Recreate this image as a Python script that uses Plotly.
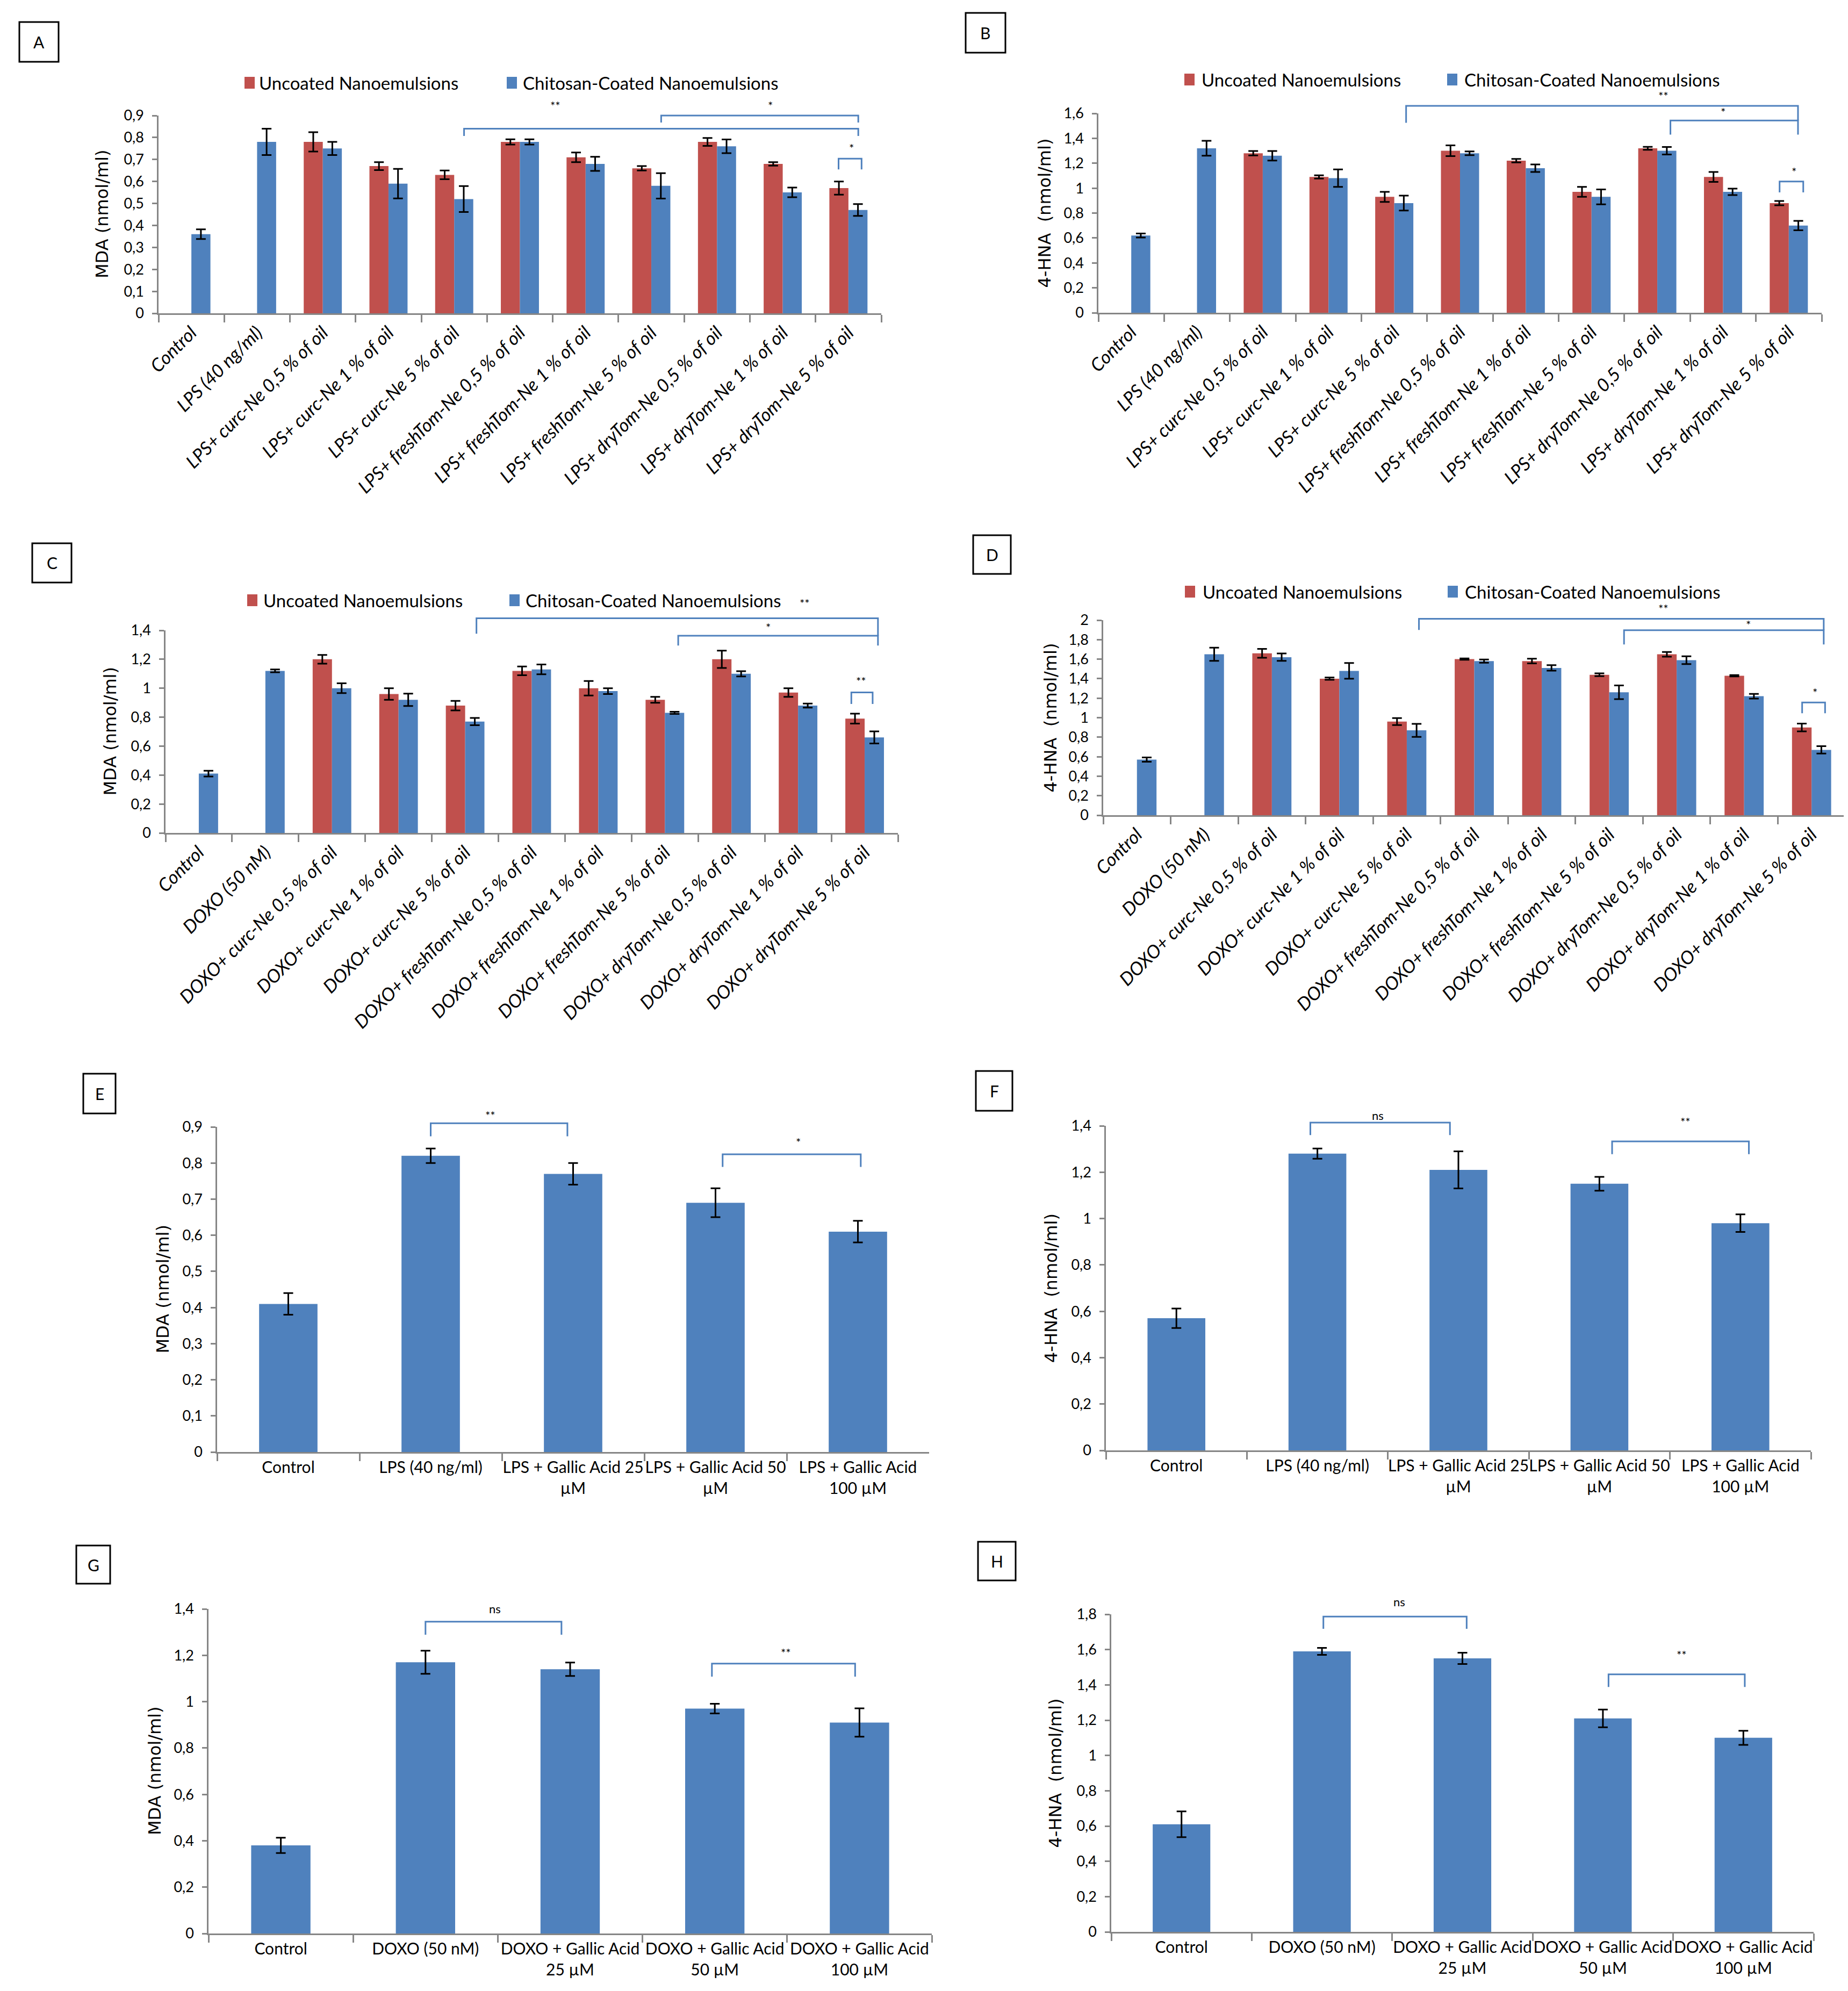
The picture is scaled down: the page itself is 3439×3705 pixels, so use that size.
import plotly.graph_objects as go

W, H = 3439, 3705
RED = '#C0504D'
BLUE = '#4F81BD'
GREY = '#868686'
SANS = 'Lato, Carlito, Calibri, Liberation Sans, sans-serif'
VERDANA = 'DejaVu Sans, Verdana, sans-serif'

# ---- categories ----
lps_groups = ['Control', 'LPS (40 ng/ml)',
              'LPS+ curc-Ne 0,5 % of oil', 'LPS+ curc-Ne 1 % of oil', 'LPS+ curc-Ne 5 % of oil',
              'LPS+ freshTom-Ne 0,5 % of oil', 'LPS+ freshTom-Ne 1 % of oil', 'LPS+ freshTom-Ne 5 % of oil',
              'LPS+ dryTom-Ne 0,5 % of oil', 'LPS+ dryTom-Ne 1 % of oil', 'LPS+ dryTom-Ne 5 % of oil']
doxo_groups = ['Control', 'DOXO (50 nM)',
               'DOXO+ curc-Ne 0,5 % of oil', 'DOXO+ curc-Ne 1 % of oil', 'DOXO+ curc-Ne 5 % of oil',
               'DOXO+ freshTom-Ne 0,5 % of oil', 'DOXO+ freshTom-Ne 1 % of oil', 'DOXO+ freshTom-Ne 5 % of oil',
               'DOXO+ dryTom-Ne 0,5 % of oil', 'DOXO+ dryTom-Ne 1 % of oil', 'DOXO+ dryTom-Ne 5 % of oil']
lps_gallic = ['Control', 'LPS (40 ng/ml)', 'LPS + Gallic Acid 25<br>µM',
              'LPS + Gallic Acid 50<br>µM', 'LPS + Gallic Acid<br>100 µM']
doxo_gallic = ['Control', 'DOXO (50 nM)', 'DOXO + Gallic Acid<br>25 µM',
               'DOXO + Gallic Acid<br>50 µM', 'DOXO + Gallic Acid<br>100 µM']

# ---- panel A: MDA, LPS ----
a_uncoated = [None, None, 0.78, 0.67, 0.63, 0.78, 0.71, 0.66, 0.78, 0.68, 0.57]
a_uncoated_err = [0, 0, 0.044, 0.018, 0.02, 0.012, 0.022, 0.01, 0.018, 0.008, 0.03]
a_coated = [0.36, 0.78, 0.75, 0.59, 0.52, 0.78, 0.68, 0.58, 0.76, 0.55, 0.47]
a_coated_err = [0.022, 0.06, 0.03, 0.067, 0.059, 0.012, 0.032, 0.058, 0.031, 0.022, 0.027]

# ---- panel B: 4-HNA, LPS ----
b_uncoated = [None, None, 1.28, 1.09, 0.93, 1.30, 1.22, 0.97, 1.32, 1.09, 0.88]
b_uncoated_err = [0, 0, 0.018, 0.013, 0.04, 0.043, 0.014, 0.04, 0.012, 0.04, 0.017]
b_coated = [0.62, 1.32, 1.26, 1.08, 0.88, 1.28, 1.16, 0.93, 1.30, 0.97, 0.70]
b_coated_err = [0.016, 0.06, 0.038, 0.07, 0.06, 0.015, 0.03, 0.06, 0.03, 0.026, 0.038]

# ---- panel C: MDA, DOXO ----
c_uncoated = [None, None, 1.20, 0.96, 0.88, 1.12, 1.00, 0.92, 1.20, 0.97, 0.79]
c_uncoated_err = [0, 0, 0.03, 0.04, 0.033, 0.03, 0.05, 0.02, 0.06, 0.03, 0.034]
c_coated = [0.41, 1.12, 1.00, 0.92, 0.77, 1.13, 0.98, 0.83, 1.10, 0.88, 0.66]
c_coated_err = [0.02, 0.01, 0.034, 0.043, 0.025, 0.034, 0.02, 0.007, 0.018, 0.014, 0.042]

# ---- panel D: 4-HNA, DOXO ----
d_uncoated = [None, None, 1.66, 1.40, 0.96, 1.60, 1.58, 1.44, 1.65, 1.43, 0.90]
d_uncoated_err = [0, 0, 0.045, 0.012, 0.036, 0.007, 0.024, 0.014, 0.024, 0.007, 0.04]
d_coated = [0.57, 1.65, 1.62, 1.48, 0.87, 1.58, 1.51, 1.26, 1.59, 1.22, 0.67]
d_coated_err = [0.022, 0.067, 0.038, 0.08, 0.067, 0.017, 0.028, 0.07, 0.04, 0.024, 0.038]

# ---- panels E-H: gallic acid ----
e_vals = [0.41, 0.82, 0.77, 0.69, 0.61]
e_err = [0.03, 0.02, 0.03, 0.04, 0.03]
f_vals = [0.57, 1.28, 1.21, 1.15, 0.98]
f_err = [0.042, 0.022, 0.08, 0.03, 0.038]
g_vals = [0.38, 1.17, 1.14, 0.97, 0.91]
g_err = [0.033, 0.05, 0.029, 0.021, 0.061]
h_vals = [0.61, 1.59, 1.55, 1.21, 1.10]
h_err = [0.073, 0.02, 0.032, 0.05, 0.04]

# significance brackets: (x left, x right, top, left leg end, right leg end) in category units / data units
a_brackets = [(4.15, 10.15, 0.84, 0.807, 0.807), (7.15, 10.15, 0.90, 0.868, 0.868), (9.85, 10.2, 0.704, 0.655, 0.655)]
a_marks = [('**', 5.54, 0.945), ('*', 8.81, 0.945), ('*', 10.05, 0.752)]
b_brackets = [(4.18, 10.14, 1.66, 1.525, 1.543), (8.2, 10.14, 1.543, 1.43, 1.43), (9.86, 10.22, 1.053, 0.966, 0.966)]
b_marks = [('**', 8.09, 1.74), ('*', 9.0, 1.61), ('*', 10.08, 1.13)]
c_brackets = [(4.17, 10.2, 1.484, 1.377, 1.363), (7.2, 10.2, 1.363, 1.295, 1.295), (9.8, 10.12, 0.971, 0.891, 0.891)]
c_marks = [('*', 8.55, 1.421), ('**', 9.1, 1.587), ('**', 9.95, 1.048)]
d_brackets = [(4.18, 10.18, 2.014, 1.90, 1.896), (7.22, 10.18, 1.896, 1.751, 1.751), (9.86, 10.2, 1.156, 1.045, 1.045)]
d_marks = [('**', 7.8, 2.12), ('*', 9.06, 1.952), ('*', 10.05, 1.26)]
e_brackets = [(1.0, 1.96, 0.910, 0.874, 0.874), (3.05, 4.02, 0.824, 0.789, 0.789)]
e_marks = [('**', 1.42, 0.932), ('*', 3.58, 0.858)]
f_brackets = [(0.95, 1.94, 1.414, 1.36, 1.36), (3.09, 4.06, 1.333, 1.278, 1.278)]
f_marks = [('ns', 1.43, 1.445), ('**', 3.61, 1.417)]
g_brackets = [(1.0, 1.94, 1.345, 1.289, 1.289), (2.98, 3.97, 1.164, 1.108, 1.108)]
g_marks = [('ns', 1.48, 1.401), ('**', 3.49, 1.211)]
h_brackets = [(1.01, 2.03, 1.787, 1.718, 1.718), (3.04, 4.01, 1.46, 1.388, 1.388)]
h_marks = [('ns', 1.55, 1.873), ('**', 3.56, 1.569)]

# panel frames in pixels: plot left/right, y of zero, y of top tick, top tick value
panels = [
    dict(letter='A', x0=287, x1=1632, y0=575, yt=207, top=0.9, dt=0.1, title='MDA (nmol/ml)', tx=182,
         box=(28, 33, 101, 107), legend=(146, 447, 472, 935, 963), cats=lps_groups,
         series=[(a_uncoated, a_uncoated_err, RED), (a_coated, a_coated_err, BLUE)],
         brackets=a_brackets, marks=a_marks),
    dict(letter='B', x0=2036, x1=3382, y0=574, yt=203, top=1.6, dt=0.2, title='4-HNA\u00a0 (nmol/ml)', tx=1935,
         box=(1789, 16, 1863, 90), legend=(140, 2196, 2226, 2685, 2715), cats=lps_groups,
         series=[(b_uncoated, b_uncoated_err, RED), (b_coated, b_coated_err, BLUE)],
         brackets=b_brackets, marks=b_marks),
    dict(letter='C', x0=300, x1=1663, y0=1542, yt=1165, top=1.4, dt=0.2, title='MDA (nmol/ml)', tx=196,
         box=(52, 1003, 125, 1076), legend=(1109, 452, 480, 940, 968), cats=doxo_groups,
         series=[(c_uncoated, c_uncoated_err, RED), (c_coated, c_coated_err, BLUE)],
         brackets=c_brackets, marks=c_marks),
    dict(letter='D', x0=2045, x1=3426, y0=1509, yt=1146, top=2.0, dt=0.2, title='4-HNA\u00a0 (nmol/ml)', tx=1946,
         box=(1803, 988, 1873, 1060), legend=(1093, 2197, 2228, 2686, 2716), cats=doxo_groups,
         series=[(d_uncoated, d_uncoated_err, RED), (d_coated, d_coated_err, BLUE)],
         brackets=d_brackets, marks=d_marks),
    dict(letter='E', x0=396, x1=1721, y0=2694, yt=2089, top=0.9, dt=0.1, title='MDA (nmol/ml)', tx=294,
         box=(147, 1990, 207, 2064), legend=None, cats=lps_gallic,
         series=[(e_vals, e_err, BLUE)], brackets=e_brackets, marks=e_marks),
    dict(letter='F', x0=2050, x1=3362, y0=2691, yt=2087, top=1.4, dt=0.2, title='4-HNA\u00a0 (nmol/ml)', tx=1948,
         box=(1808, 1985, 1876, 2059), legend=None, cats=lps_gallic,
         series=[(f_vals, f_err, BLUE)], brackets=f_brackets, marks=f_marks),
    dict(letter='G', x0=380, x1=1726, y0=3590, yt=2986, top=1.4, dt=0.2, title='MDA (nmol/ml)', tx=280,
         box=(134, 2868, 197, 2939), legend=None, cats=doxo_gallic,
         series=[(g_vals, g_err, BLUE)], brackets=g_brackets, marks=g_marks),
    dict(letter='H', x0=2060, x1=3367, y0=3587, yt=2996, top=1.8, dt=0.2, title='4-HNA\u00a0 (nmol/ml)', tx=1955,
         box=(1812, 2861, 1882, 2933), legend=None, cats=doxo_gallic,
         series=[(h_vals, h_err, BLUE)], brackets=h_brackets, marks=h_marks),
]


def px(p, idx):
    return (p['x0'] + (idx + 0.5) / len(p['cats']) * (p['x1'] - p['x0'])) / W


def py(p, v):
    return 1 - (p['y0'] - v / p['top'] * (p['y0'] - p['yt'])) / H


def note(x, y, text, font, **kw):
    d = dict(x=x, y=y, xref='paper', yref='paper', text=text, showarrow=False,
             xanchor='center', yanchor='middle', font=font)
    d.update(kw)
    return d


fig = go.Figure()
shapes = []
annotations = []

for i, p in enumerate(panels, start=1):
    xa = 'x' if i == 1 else 'x%d' % i
    ya = 'y' if i == 1 else 'y%d' % i
    grouped = len(p['series']) > 1
    for vals, errs, col in p['series']:
        fig.add_trace(go.Bar(
            x=p['cats'], y=vals,
            marker=dict(color=col, line=dict(width=0)),
            width=None if grouped else 0.41,
            error_y=dict(type='data', array=errs, color='black', thickness=3, width=9),
            xaxis=xa, yaxis=ya, showlegend=False, hoverinfo='x+y'))

    xkey = 'xaxis' if i == 1 else 'xaxis%d' % i
    ykey = 'yaxis' if i == 1 else 'yaxis%d' % i
    tickfont = dict(family=SANS, size=34 if grouped else 30, color='black')
    if grouped:
        tickfont['style'] = 'italic'
    fig.layout[xkey] = dict(
        domain=[p['x0'] / W, p['x1'] / W], anchor=ya, type='category', automargin=False,
        showline=True, linecolor=GREY, linewidth=2.5,
        ticks='outside', tickson='boundaries', ticklen=14, tickwidth=2.5, tickcolor=GREY,
        tickangle=-45 if grouped else 0, tickfont=tickfont, showgrid=False)
    fig.layout[ykey] = dict(
        domain=[1 - p['y0'] / H, 1 - p['yt'] / H], anchor=xa, range=[0, p['top']], automargin=False,
        dtick=p['dt'], tick0=0, showline=True, linecolor=GREY, linewidth=2.5,
        ticks='outside', ticklen=9, tickwidth=2.5, tickcolor=GREY, ticklabelstandoff=10,
        tickfont=dict(family=SANS, size=27, color='black'), showgrid=False, zeroline=False)

    # y axis title
    annotations.append(note(p['tx'] / W, 1 - (p['y0'] + p['yt']) / 2 / H, p['title'],
                            dict(family=VERDANA, size=32, color='black'), textangle=-90))

    # panel letter box
    bx0, by0, bx1, by1 = p['box']
    shapes.append(dict(type='rect', xref='paper', yref='paper', x0=bx0 / W, x1=bx1 / W,
                       y0=1 - by1 / H, y1=1 - by0 / H, line=dict(color='black', width=3)))
    annotations.append(note((bx0 + bx1) / 2 / W, 1 - (by0 + by1) / 2 / H, p['letter'],
                            dict(family=SANS, size=30, color='black')))

    # legend
    if p['legend']:
        ly, rx, rtx, bxx, btx = p['legend']
        for sx, tx, col, name in [(rx, rtx, RED, 'Uncoated Nanoemulsions'),
                                  (bxx, btx, BLUE, 'Chitosan-Coated Nanoemulsions')]:
            shapes.append(dict(type='rect', xref='paper', yref='paper', x0=sx / W, x1=(sx + 19) / W,
                               y0=1 - (ly + 11) / H, y1=1 - (ly - 11) / H, fillcolor=col, line=dict(width=0)))
            annotations.append(note(tx / W, 1 - ly / H, name, dict(family=SANS, size=33, color='black'),
                                    xanchor='left'))

    # significance brackets
    for xl, xr, top, bl, br in p['brackets']:
        path = 'M %f %f L %f %f L %f %f L %f %f' % (px(p, xl), py(p, bl), px(p, xl), py(p, top),
                                                     px(p, xr), py(p, top), px(p, xr), py(p, br))
        shapes.append(dict(type='path', xref='paper', yref='paper', path=path,
                           line=dict(color=BLUE, width=3)))
    for txt, xm, ym in p['marks']:
        annotations.append(note(px(p, xm), py(p, ym), txt, dict(family=SANS, size=22, color='black')))

fig.update_layout(
    width=W, height=H, margin=dict(l=0, r=0, t=0, b=0, pad=0, autoexpand=False),
    paper_bgcolor='white', plot_bgcolor='white',
    barmode='group', bargap=0.42, bargroupgap=0,
    separators=',.', shapes=shapes, annotations=annotations,
    showlegend=False)

fig.write_html('out.html')
